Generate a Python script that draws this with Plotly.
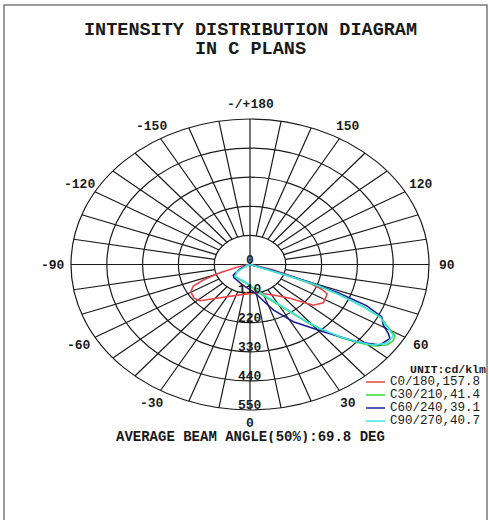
import numpy as np
import plotly.graph_objects as go

# ---------------- data ----------------
TITLE_LINES = ["INTENSITY DISTRIBUTION DIAGRAM", "IN C PLANS"]
RING_VALUES = [110, 220, 330, 440, 550]
SPOKE_STEP_DEG = 10
ANGLE_LABEL_DEG = [0, 30, 60, 90, 120, 150, 180, -150, -120, -90, -60, -30]
ANGLE_LABEL_TEXT = ["0", "30", "60", "90", "120", "150", "-/+180",
                    "-150", "-120", "-90", "-60", "-30"]
UNIT_LABEL = "UNIT:cd/klm"
BEAM_TEXT = "AVERAGE BEAM ANGLE(50%):69.8 DEG"

SERIES_NAMES = ["C0/180,157.8", "C30/210,41.4", "C60/240,39.1", "C90/270,40.7"]
SERIES_COLORS = ["#e8464a", "#35dd3a", "#1c1c9c", "#3fe3e3"]

# gamma angle (deg, 0 = downward, + = right side) and intensity (cd/klm)
C0_GAMMA = [-180, -90, -80, -75.5, -71.4, -67.8, -65, -60.6, -53.4, -48.3, -38.7,
            -23.3, 0, 15.7, 31.8, 43.9, 48.6, 51.6, 57.3, 61, 64.9, 67, 68.9,
            70.9, 73.8, 80, 90, 180]
C0_CD = [0, 0, 12, 42, 97, 155, 192, 209, 214, 206, 164,
         130, 109, 113, 136, 177, 218, 248, 268, 264, 262, 239, 198,
         141, 75, 10, 0, 0]

C30_GAMMA = [-180, -90, -70, -56, -45, -23.5, 0, 14, 29.2, 34.6, 38.9, 42.3, 45.4,
             48.3, 51.2, 54.1, 56.5, 58.8, 60.5, 63.5, 65.4, 67.4, 69, 70, 71,
             73, 80, 90, 180]
C30_CD = [0, 0, 12, 50, 66, 66, 80, 110, 172, 222, 283, 340, 394,
          445, 492, 519, 526, 521, 490, 450, 380, 296, 215, 115, 45,
          8, 2, 0, 0]

C60_GAMMA = [-180, -90, -70, -60, -52, -45, -30, -15, 0, 5.6, 22.6, 31.6, 41.6,
             48.3, 52.7, 57, 58.5, 60.8, 64, 66.5, 68.5, 70, 72, 76, 90, 180]
C60_CD = [0, 0, 15, 40, 65, 70, 72, 82, 95, 103, 186, 254, 340,
          439, 502, 513, 498, 469, 450, 390, 293, 182, 74, 10, 0, 0]

C90_GAMMA = [-180, -90, -70, -56, -45, -23.5, 0, 14, 29.2, 34.6, 38.9, 42.3, 45.4,
             48.3, 51.2, 54.7, 58.5, 59.2, 60.8, 63.7, 65.4, 67.4, 69.3, 70, 71,
             73, 80, 90, 180]
C90_CD = [0, 0, 10, 49, 65, 64, 77.5, 106, 168, 217, 278, 335, 389,
          439, 486, 515, 517, 507, 481, 446, 383, 300, 219, 120, 50,
          10, 2, 0, 0]

SERIES_GAMMA = [C0_GAMMA, C30_GAMMA, C60_GAMMA, C90_GAMMA]
SERIES_CD = [C0_CD, C30_CD, C60_CD, C90_CD]

# ---------------- layout geometry (pixels) ----------------
W, H = 489, 520
CX, CY = 250.0, 264.5       # pixel centre of diagram
RX, RY = 179.0, 145.5       # pixel semi-axes of outer ring
RMAX = RING_VALUES[-1]

sx = RX / RMAX
sy = RY / RMAX
x_range = [-CX / sx, (W - CX) / sx]
y_range = [-(H - CY) / sy, CY / sy]

MONO = "Liberation Mono, Courier New, monospace"
INK = "#1a1a1a"


def to_xy(gamma_deg, r):
    g = np.radians(np.asarray(gamma_deg, dtype=float))
    r = np.asarray(r, dtype=float)
    return r * np.sin(g), -r * np.cos(g)


def px(xp):
    return xp / W


def py(yp):
    return 1 - yp / H


fig = go.Figure()

# grid shapes
shapes = []
for rv in RING_VALUES:
    shapes.append(dict(type="circle", xref="x", yref="y", x0=-rv, x1=rv, y0=-rv, y1=rv,
                       line=dict(color=INK, width=1.2), layer="below"))
for a in range(-180, 180, SPOKE_STEP_DEG):
    r0 = 0 if a % 90 == 0 else RING_VALUES[0]
    x0, y0 = to_xy(a, r0)
    x1, y1 = to_xy(a, RMAX)
    shapes.append(dict(type="line", xref="x", yref="y", x0=float(x0), y0=float(y0),
                       x1=float(x1), y1=float(y1),
                       line=dict(color=INK, width=1.2), layer="below"))

# frame
shapes.append(dict(type="rect", xref="paper", yref="paper",
                   x0=px(4), x1=px(487), y0=py(5), y1=py(530),
                   line=dict(color="#7a7a7a", width=1.5), layer="below"))

# legend sample lines
LEG_Y = [382, 395, 408, 421]
for color, ly in zip(SERIES_COLORS, LEG_Y):
    shapes.append(dict(type="line", xref="paper", yref="paper",
                       x0=px(366), x1=px(385), y0=py(ly), y1=py(ly),
                       line=dict(color=color, width=1.5)))

# series
for name, color, g, c in zip(SERIES_NAMES, SERIES_COLORS, SERIES_GAMMA, SERIES_CD):
    x, y = to_xy(g, c)
    fig.add_trace(go.Scatter(x=x, y=y, mode="lines", name=name,
                             line=dict(color=color, width=1.6), hoverinfo="skip"))

annotations = []
# title
for txt, ty in zip(TITLE_LINES, [30, 49]):
    annotations.append(dict(text=txt, x=px(250), y=py(ty), xref="paper", yref="paper",
                            showarrow=False, xanchor="center", yanchor="middle",
                            height=15,
                            font=dict(family=MONO, size=18.5, color=INK, weight="bold")))

# angle labels
LABEL_R = RMAX * 1.1
for a, t in zip(ANGLE_LABEL_DEG, ANGLE_LABEL_TEXT):
    lx, ly = to_xy(a, LABEL_R)
    annotations.append(dict(text=t, x=float(lx), y=float(ly), xref="x", yref="y",
                            showarrow=False, xanchor="center", yanchor="middle",
                            height=12, yshift=2 if a == 0 else 0,
                            font=dict(family=MONO, size=13, color=INK, weight="bold")))

# radial labels
for rv in [0] + RING_VALUES:
    annotations.append(dict(text=str(rv), x=0, y=-rv, xref="x", yref="y",
                            showarrow=False, xanchor="center", yanchor="middle",
                            yshift=5, height=12,
                            font=dict(family=MONO, size=13, color=INK, weight="bold")))

# beam angle
annotations.append(dict(text=BEAM_TEXT, x=px(250), y=py(437), xref="paper", yref="paper",
                        showarrow=False, xanchor="center", yanchor="middle",
                        height=12,
                        font=dict(family=MONO, size=14, color=INK, weight="bold")))

# legend
annotations.append(dict(text=UNIT_LABEL, x=px(408), y=py(369), xref="paper", yref="paper",
                        showarrow=False, xanchor="left", yanchor="middle",
                        height=12,
                        font=dict(family=MONO, size=11.5, color=INK, weight="bold")))
for name, ly in zip(SERIES_NAMES, LEG_Y):
    annotations.append(dict(text=name, x=px(388), y=py(ly), xref="paper", yref="paper",
                            showarrow=False, xanchor="left", yanchor="middle",
                            height=12,
                            font=dict(family=MONO, size=12.5, color=INK)))

fig.update_layout(
    width=W, height=H, autosize=False,
    margin=dict(l=0, r=0, t=0, b=0),
    paper_bgcolor="white", plot_bgcolor="white",
    showlegend=False,
    xaxis=dict(range=x_range, visible=False, domain=[0, 1], fixedrange=True),
    yaxis=dict(range=y_range, visible=False, domain=[0, 1], fixedrange=True),
    shapes=shapes,
    annotations=annotations,
)

fig.write_html("out.html", config={"displayModeBar": False},
               post_script="document.body.style.margin='0';document.body.style.overflow='hidden';")
